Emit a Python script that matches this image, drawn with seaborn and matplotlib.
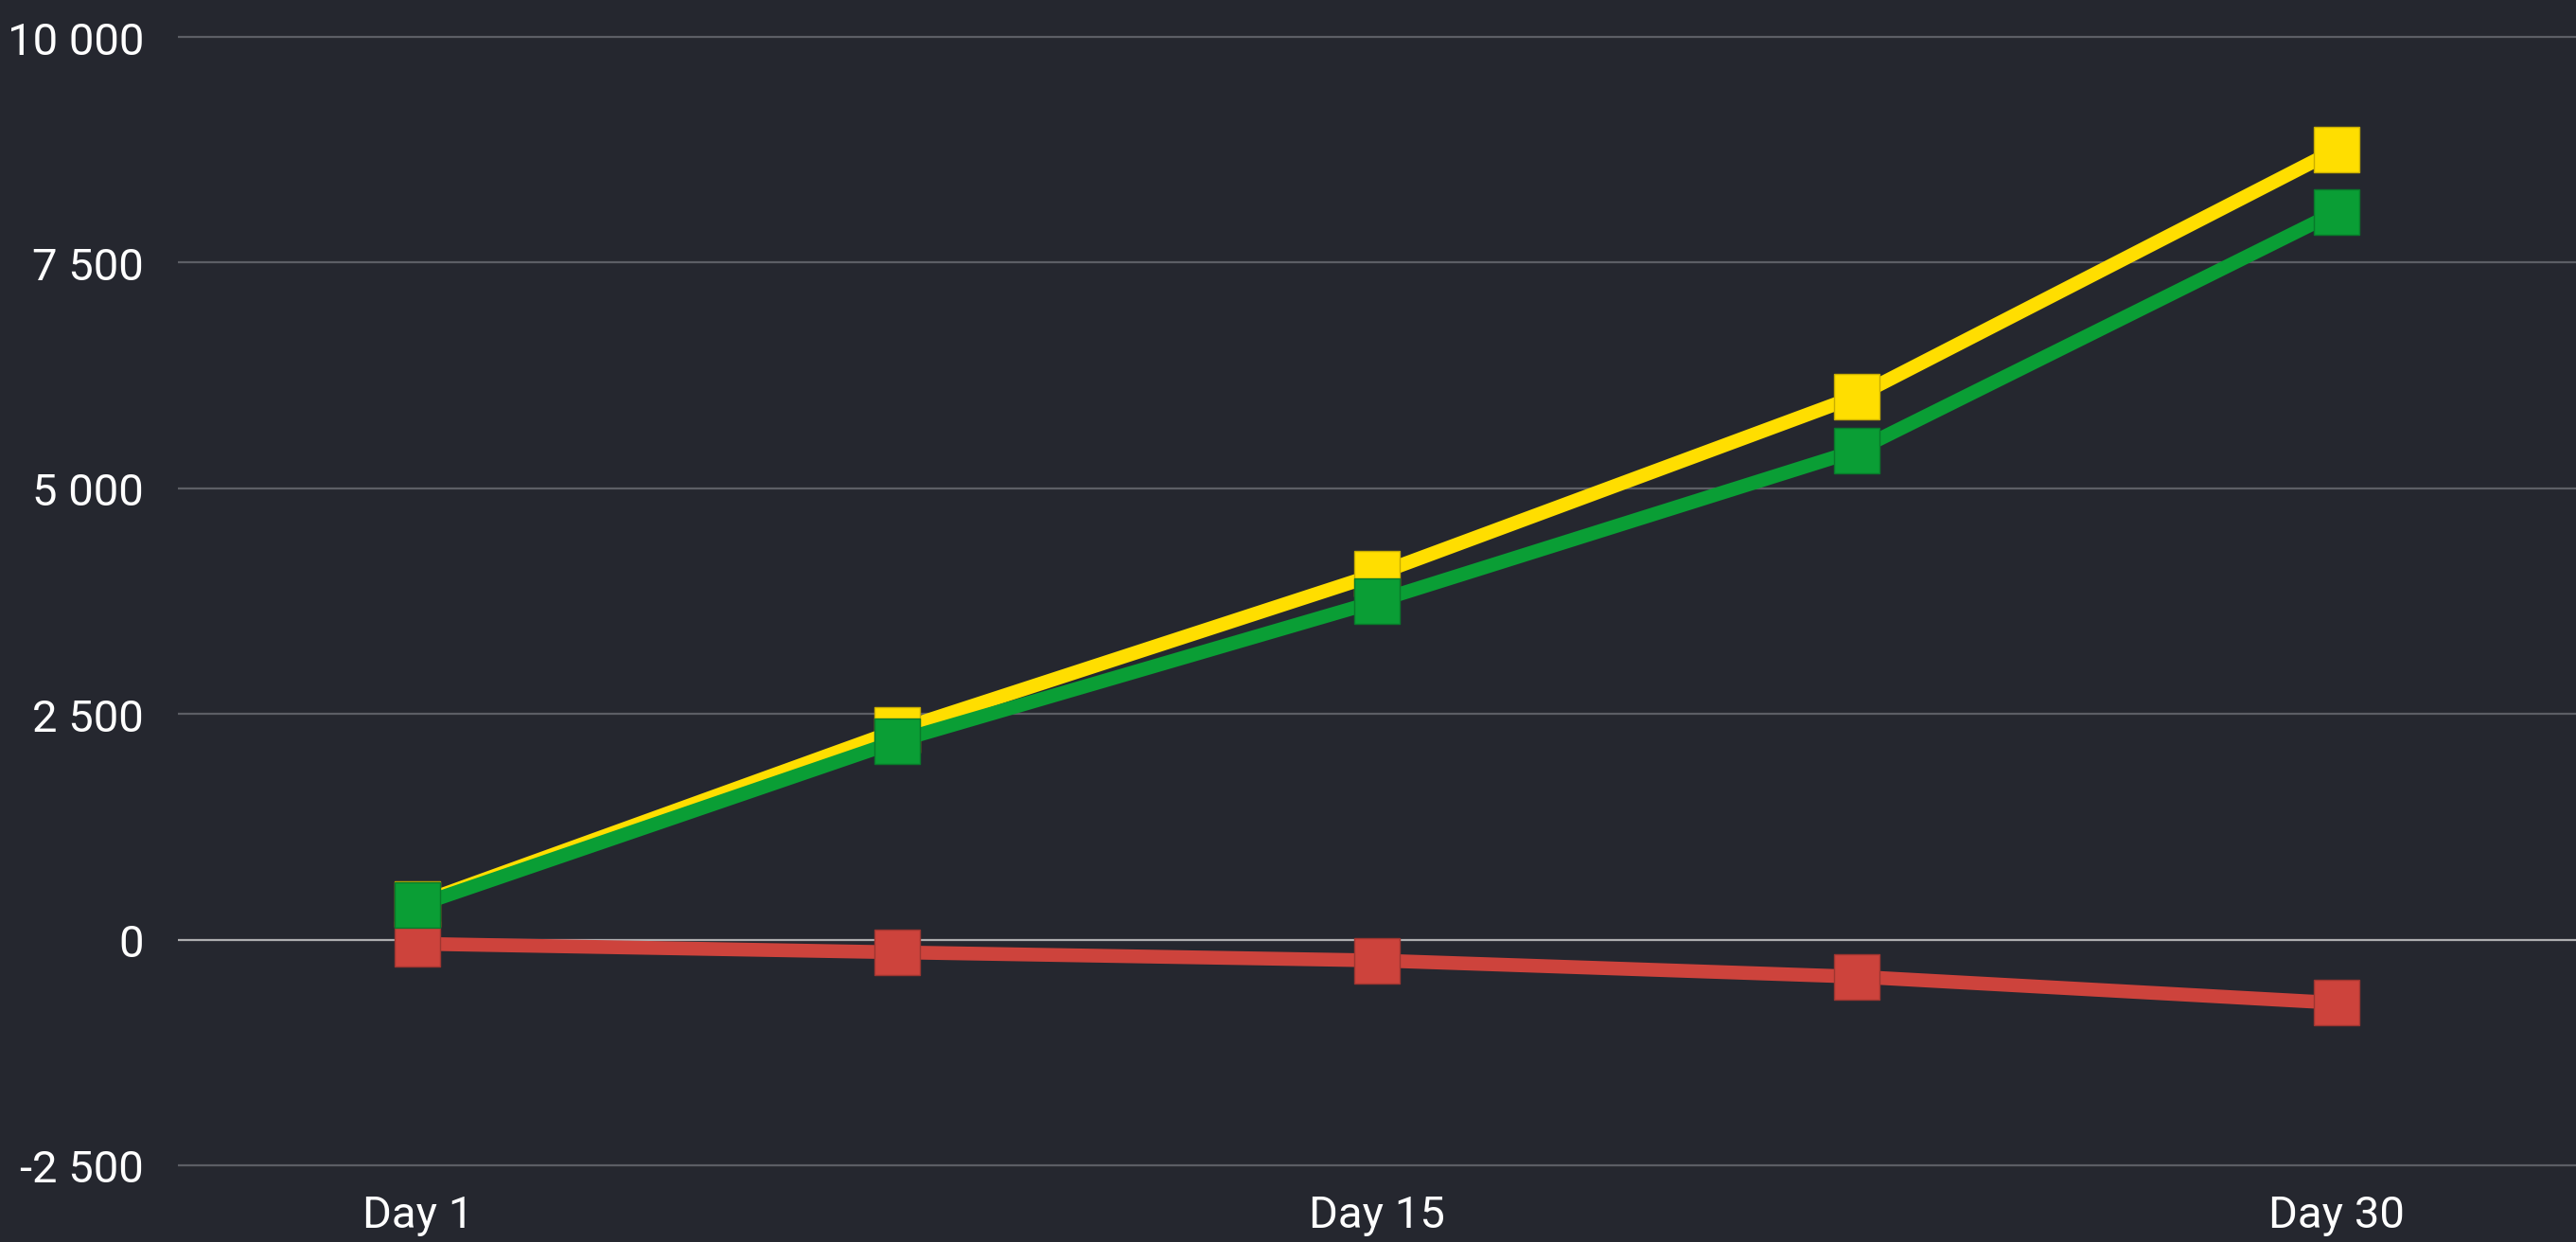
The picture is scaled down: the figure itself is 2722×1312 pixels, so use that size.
import pandas as pd
import matplotlib
matplotlib.use("Agg")
import matplotlib.pyplot as plt
import seaborn as sns

# values, five checkpoints between day 1 and day 30
points = [0, 1, 2, 3, 4]
tick_labels = ["Day 1", "", "Day 15", "", "Day 30"]
yellow_vals = [400, 2320, 4050, 6020, 8750]
green_vals = [380, 2200, 3750, 5420, 8060]
red_vals = [-45, -140, -230, -410, -700]
y_ticks = [-2500, 0, 2500, 5000, 7500, 10000]

bg = "#25272f"
colors = {"red": "#cd433c", "yellow": "#ffde00", "green": "#0a9e35"}
edges = {"red": "#9e3530", "yellow": "#c9ae00", "green": "#087a2a"}

df = pd.DataFrame({
    "point": points * 3,
    "value": red_vals + yellow_vals + green_vals,
    "series": ["red"] * 5 + ["yellow"] * 5 + ["green"] * 5,
})

sns.set_theme(style="dark")
plt.rcParams["font.family"] = ["Roboto", "DejaVu Sans"]

fig = plt.figure(figsize=(27.22, 13.129), dpi=100, facecolor=bg)
ax = fig.add_axes([188 / 2722, 1 - 1245 / 1313, 1 - 188 / 2722, (1245 - 30) / 1313])
ax.set_facecolor(bg)

# grid first so lines sit on top
for t in y_ticks:
    ax.axhline(t, color="#aeaeb0" if t == 0 else "#5c5e65", lw=1.6, zorder=0)

# draw order red -> yellow -> green, green markers cover the others
for name in ["red", "yellow", "green"]:
    sub = df[df["series"] == name]
    sns.lineplot(data=sub, x="point", y="value", ax=ax, color=colors[name],
                 linewidth=10.5, marker="s", markersize=35,
                 markeredgecolor=edges[name], markeredgewidth=1.0, legend=False)

ax.set_xlim(-0.5, 4.5)
ax.set_ylim(-2636, 10105)
ax.set_xticks(points)
ax.set_xticklabels(tick_labels)
ax.set_yticks(y_ticks)
ax.set_yticklabels([f"{t:,}".replace(",", " ") for t in y_ticks])
ax.tick_params(axis="both", colors="white", labelsize=34, length=0)
ax.tick_params(axis="y", pad=26)
ax.tick_params(axis="x", pad=12)
ax.set_xlabel("")
ax.set_ylabel("")
ax.grid(False)
for s in ax.spines.values():
    s.set_visible(False)

fig.savefig("out.png", dpi=100, facecolor=bg)
